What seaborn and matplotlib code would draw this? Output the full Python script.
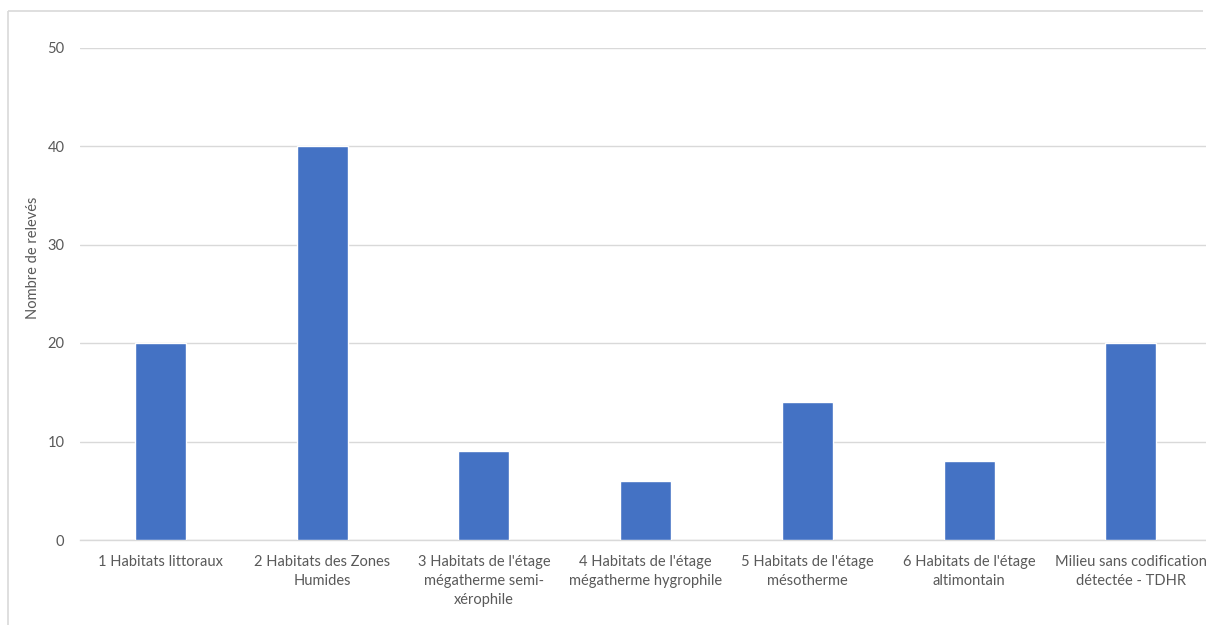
import matplotlib
matplotlib.use("Agg")
import matplotlib.pyplot as plt
import seaborn as sns
from matplotlib.lines import Line2D

habitats = [
    "1 Habitats littoraux",
    "2 Habitats des Zones\nHumides",
    "3 Habitats de l'étage\nmégatherme semi-\nxérophile",
    "4 Habitats de l'étage\nmégatherme hygrophile",
    "5 Habitats de l'étage\nmésotherme",
    "6 Habitats de l'étage\naltimontain",
    "Milieu sans codification\ndétectée - TDHR",
]
releves = [20, 40, 9, 6, 14, 8, 20]
yticks = [0, 10, 20, 30, 40, 50]

sns.set_style("white")
plt.rcParams["font.family"] = ["Lato", "DejaVu Sans"]

W, H = 1206, 625
fig = plt.figure(figsize=(W / 100, H / 100), dpi=100)
fig.patch.set_edgecolor("white")
fig.patch.set_linewidth(0)

# bordure grise du graphique (seulement gauche et haut visibles)
bx, by = 7.5 / W, 1 - 10.5 / H
fig.lines.append(Line2D([bx, bx], [0, by], transform=fig.transFigure,
                        color="#D9D9D9", linewidth=1.2, solid_capstyle="butt"))
fig.lines.append(Line2D([bx, 1203 / W], [by, by], transform=fig.transFigure,
                        color="#D9D9D9", linewidth=1.2, solid_capstyle="butt"))

ax = fig.add_axes([79.6 / W, 85 / H, 1132.25 / W, 492.5 / H])
sns.barplot(x=habitats, y=releves, color="#4472C4", width=0.315,
            saturation=1, ax=ax, zorder=3)
ax.patch.set_visible(False)

ax.set_ylim(0, 50)
ax.set_xlim(-0.5, len(habitats) - 0.5)
ax.set_yticks(yticks)
ax.grid(axis="y", color="#D9D9D9", linewidth=1, zorder=0)
ax.grid(axis="x", visible=False)
for side in ["left", "top", "right"]:
    ax.spines[side].set_visible(False)
ax.spines["bottom"].set_color("#D9D9D9")
ax.spines["bottom"].set_linewidth(1)
ax.tick_params(axis="both", length=0, colors="#595959", labelsize=10.5)
ax.tick_params(axis="y", pad=11)
ax.tick_params(axis="x", pad=11)
for lab in ax.get_xticklabels():
    lab.set_linespacing(1.45)
ax.set_xlabel("")
ax.set_ylabel("")

fig.text(33 / W, 1 - 258 / H, "Nombre de relevés", rotation=90,
         ha="center", va="center", color="#595959", fontsize=10.5)

fig.savefig("out.png", dpi=100, facecolor="white")
